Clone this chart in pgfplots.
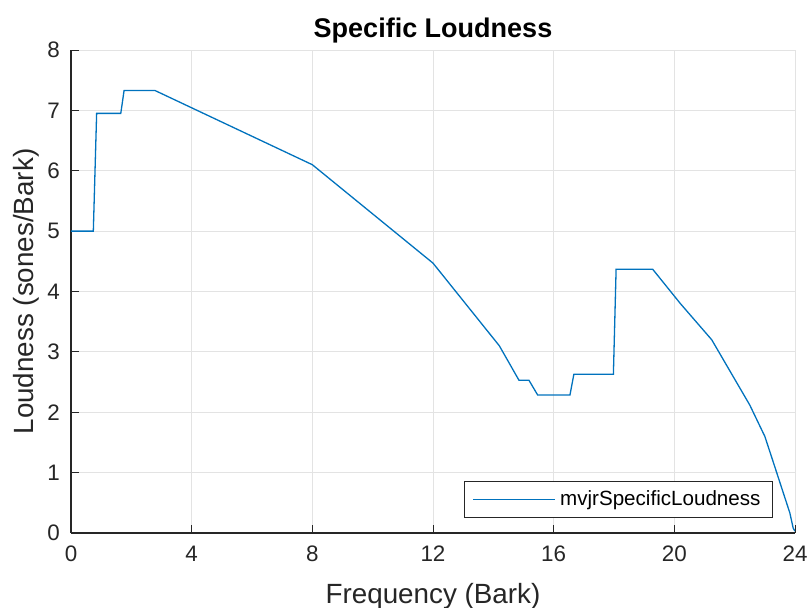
\documentclass[border=0pt]{standalone}
\usepackage{fontspec}
\setmainfont{Liberation Sans}
\usepackage{pgfplots}
\pgfplotsset{compat=1.18}
\definecolor{mblue}{rgb}{0,0.447,0.741}
\definecolor{axgray}{rgb}{0.15,0.15,0.15}
\begin{document}
\begin{tikzpicture}
\begin{axis}[
  scale only axis,
  width=362pt, height=241.5pt,
  xmin=0, xmax=24, ymin=0, ymax=8,
  xtick={0,4,8,12,16,20,24},
  ytick={0,1,2,3,4,5,6,7,8},
  axis lines*=left,
  axis line style={axgray, line width=0.6pt},
  tick align=inside,
  major tick length=4pt,
  tick style={axgray, line width=0.5pt},
  grid=major,
  grid style={gray!22, line width=0.5pt},
  /pgf/number format/assume math mode=true,
  ticklabel style={font=\fontsize{11.2}{13}\selectfont, text=axgray},
  xticklabel style={yshift=-3pt},
  yticklabel style={xshift=-2pt},
  xlabel={Frequency (Bark)},
  ylabel={Loudness (sones/Bark)},
  label style={font=\fontsize{13.9}{16}\selectfont, text=axgray},
  xlabel style={yshift=-4pt},
  ylabel style={yshift=-3pt},
  title={Specific Loudness},
  title style={font=\bfseries\fontsize{13.5}{16}\selectfont, yshift=-6pt},
  legend style={at={(rel axis cs:1,0)}, anchor=south east, xshift=-11pt, yshift=7.5pt,
    draw=axgray, line width=0.5pt, font=\fontsize{10.3}{12}\selectfont, inner xsep=4pt, inner ysep=2.6pt},
  legend cell align=left,
  legend image code/.code={\draw[#1] (0pt,0pt) -- (41pt,0pt);},
]
\addplot[mblue, line width=0.65pt] coordinates {
(0,5) (0.74,5) (0.85,6.95) (1.65,6.95) (1.76,7.33) (2.78,7.33)
(8,6.1) (12,4.47) (14.2,3.1) (14.85,2.53) (15.18,2.53) (15.47,2.285)
(16.54,2.285) (16.67,2.63) (17.98,2.63) (18.07,4.37) (19.28,4.37)
(20.2,3.8) (21.24,3.2) (22.5,2.12) (23.0,1.6) (23.4,0.99) (23.83,0.33)
(23.94,0.08) (24,0.03)
};
\addlegendentry{mvjrSpecificLoudness\hspace{4pt}}
\end{axis}
\pgfresetboundingbox
\path ([xshift=-35.5pt, yshift=-37.5pt]current axis.south west) rectangle ([xshift=7pt, yshift=25pt]current axis.north east);
\end{tikzpicture}
\end{document}
